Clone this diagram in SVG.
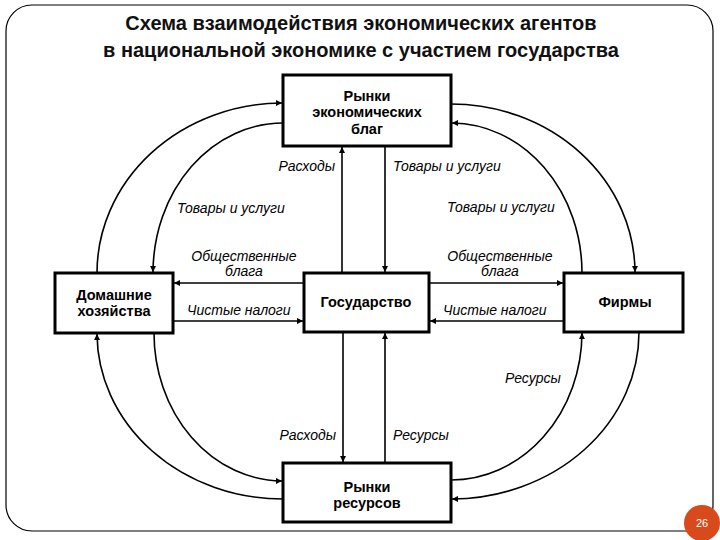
<svg xmlns="http://www.w3.org/2000/svg" width="720" height="540" viewBox="0 0 720 540">
<style>
.box{fill:#fff;stroke:#000;stroke-width:3}
.bt{font-family:"Liberation Sans",Arial,sans-serif;font-weight:bold;font-size:14.5px;text-anchor:middle;fill:#000}
.lb{font-family:"Liberation Sans",Arial,sans-serif;font-style:italic;font-size:14px;fill:#000}
.c{fill:none;stroke:#000;stroke-width:1.6}
.ttl{font-family:"Liberation Sans",Arial,sans-serif;font-weight:bold;font-size:20px;text-anchor:middle;fill:#111}
</style>
<defs>
<marker id="ah" viewBox="0 0 10 10" refX="10" refY="5" markerWidth="6" markerHeight="6" markerUnits="userSpaceOnUse" orient="auto">
<path d="M0,0 L10,5 L0,10 z" fill="#000"/>
</marker>
</defs>
<rect x="0" y="0" width="720" height="540" fill="#fff"/>
<rect id="frame" x="6" y="5" width="707" height="526" rx="26" ry="26" fill="#fff" stroke="#000" stroke-width="1.2"/>
<g id="title">
<text class="ttl" x="361" y="30">Схема взаимодействия экономических агентов</text>
<text class="ttl" x="361" y="57">в национальной экономике с участием государства</text>
</g>
<g id="connectors">
<path class="c" d="M342,273 L342,147" marker-end="url(#ah)"/>
<path class="c" d="M385,146 L385,272" marker-end="url(#ah)"/>
<path class="c" d="M343,332 L343,462" marker-end="url(#ah)"/>
<path class="c" d="M385,463 L385,333" marker-end="url(#ah)"/>
<path class="c" d="M304,283 L174,283" marker-end="url(#ah)"/>
<path class="c" d="M173,321 L303,321" marker-end="url(#ah)"/>
<path class="c" d="M429,283 L563,283" marker-end="url(#ah)"/>
<path class="c" d="M564,321 L430,321" marker-end="url(#ah)"/>
<path class="c" d="M97,273 A186,170 0 0 1 282,103" marker-end="url(#ah)"/>
<path class="c" d="M283,123 A130,150 0 0 0 153,272" marker-end="url(#ah)"/>
<path class="c" d="M451,104 A184,169 0 0 1 635,272" marker-end="url(#ah)"/>
<path class="c" d="M582,273 A131,150 0 0 0 452,123" marker-end="url(#ah)"/>
<path class="c" d="M283,499 A186,166 0 0 1 97,334" marker-end="url(#ah)"/>
<path class="c" d="M154,333 A129,148 0 0 0 282,481" marker-end="url(#ah)"/>
<path class="c" d="M451,480 A131,148 0 0 0 582,333" marker-end="url(#ah)"/>
<path class="c" d="M639,332 A188,167 0 0 1 452,499" marker-end="url(#ah)"/>
</g>
<g id="labels">
<text class="lb" x="335" y="171" text-anchor="end">Расходы</text>
<text class="lb" x="393" y="171">Товары и услуги</text>
<text class="lb" x="177" y="213">Товары и услуги</text>
<text class="lb" x="447" y="212">Товары и услуги</text>
<text class="lb" x="244" y="261" text-anchor="middle">Общественные</text>
<text class="lb" x="244" y="276" text-anchor="middle">блага</text>
<text class="lb" x="500" y="261" text-anchor="middle">Общественные</text>
<text class="lb" x="500" y="276" text-anchor="middle">блага</text>
<text class="lb" x="187" y="315">Чистые налоги</text>
<text class="lb" x="443" y="315">Чистые налоги</text>
<text class="lb" x="505" y="383">Ресурсы</text>
<text class="lb" x="336" y="440" text-anchor="end">Расходы</text>
<text class="lb" x="393" y="440">Ресурсы</text>
</g>
<g id="markets-goods">
<rect class="box" x="283" y="75" width="168" height="71"/>
<text class="bt" x="367" y="101">Рынки</text>
<text class="bt" x="367" y="117">экономических</text>
<text class="bt" x="367" y="134">благ</text>
</g>
<g id="households">
<rect class="box" x="55" y="273" width="118" height="60"/>
<text class="bt" x="114" y="300">Домашние</text>
<text class="bt" x="114" y="316">хозяйства</text>
</g>
<g id="government">
<rect class="box" x="304" y="273" width="125" height="59"/>
<text class="bt" x="366" y="307">Государство</text>
</g>
<g id="firms">
<rect class="box" x="564" y="273" width="119" height="59"/>
<text class="bt" x="625" y="307">Фирмы</text>
</g>
<g id="markets-resources">
<rect class="box" x="283" y="463" width="168" height="59"/>
<text class="bt" x="367" y="492">Рынки</text>
<text class="bt" x="367" y="508">ресурсов</text>
</g>
<g id="page">
<circle cx="702" cy="523" r="18" fill="#D84A1B"/>
<text x="702" y="527" font-family="'Liberation Sans',Arial,sans-serif" font-size="11px" fill="#fff" text-anchor="middle">26</text>
</g>
</svg>
